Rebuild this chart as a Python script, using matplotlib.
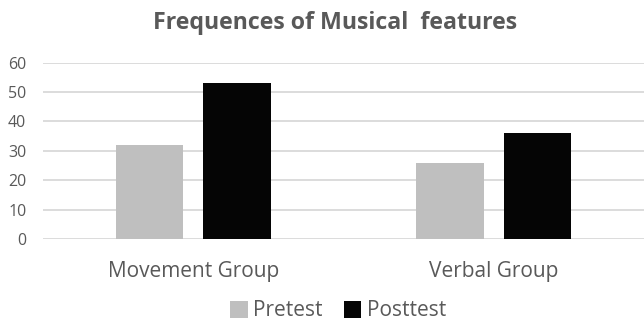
import matplotlib
matplotlib.use("Agg")
import matplotlib.pyplot as plt
import numpy as np

groups = ["Movement Group", "Verbal Group"]
pretest = [32, 26]
posttest = [53, 36]
series_names = ["Pretest", "Posttest"]
yticks = [0, 10, 20, 30, 40, 50, 60]

def main():
    plt.rcParams["font.family"] = ["Open Sans", "DejaVu Sans"]
    txt = "#595959"
    fig = plt.figure(figsize=(6.44, 3.25), dpi=100)
    ax = fig.add_axes([43 / 644, 1 - 239 / 325, (644 - 43) / 644, (239 - 62.7) / 325])

    x = np.arange(len(groups))
    w = 0.225
    off = 0.146
    ax.bar(x - off, pretest, w, color="#bfbfbf", label=series_names[0], zorder=2)
    ax.bar(x + off, posttest, w, color="#050505", label=series_names[1], zorder=2)

    ax.set_xlim(-0.5, 1.5)
    ax.set_ylim(0, 60)
    ax.set_yticks(yticks)
    ax.yaxis.grid(True, color="#d9d9d9", linewidth=1.3, zorder=0)
    ax.set_xticks(x)
    ax.set_xticklabels(groups, fontsize=15, color=txt)
    ax.tick_params(axis="y", labelsize=11.5, labelcolor=txt, length=0, pad=12)
    ax.tick_params(axis="x", length=0, pad=16)
    for s in ax.spines.values():
        s.set_visible(False)

    fig.text(0.52, 1 - 23 / 325, "Frequences of Musical  features", ha="center", va="center",
             fontsize=16.7, fontweight="bold", color=txt)
    fig.legend(loc="center", bbox_to_anchor=(0.525, 1 - 311 / 325), ncol=2, frameon=False,
               fontsize=15, labelcolor=txt, handlelength=0.85, handleheight=0.85,
               handletextpad=0.25, columnspacing=1.0, borderpad=0.2)

    plt.savefig("out.png", dpi=100)
    plt.close("all")


if __name__ == '__main__':
    main()
